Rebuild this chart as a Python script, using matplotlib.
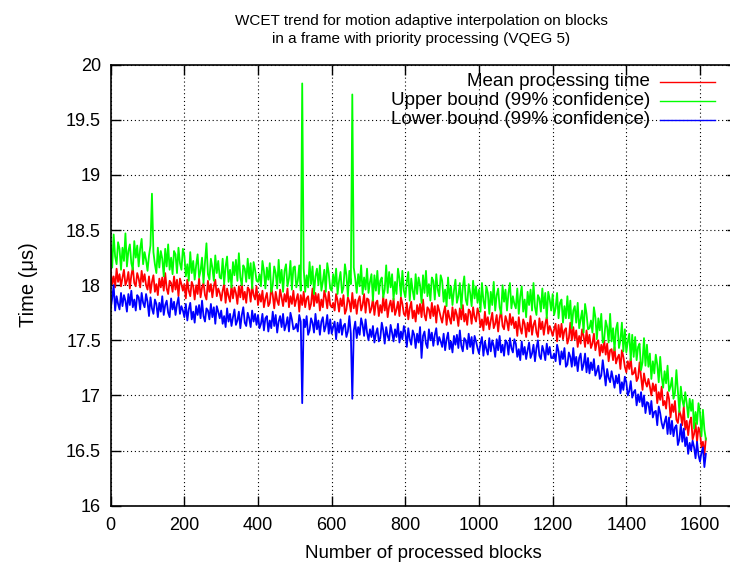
import numpy as np
import matplotlib.pyplot as plt

# processed block index, sampled every 4 blocks
blocks = np.arange(0, 1620, 4)

# times in hundredths of a microsecond, one row per 100 blocks
mean_time = [
    1813, 1801, 1808, 1798, 1815, 1803, 1810, 1799, 1807, 1814, 1800, 1804, 1812, 1797, 1809, 1816, 1802, 1799, 1811, 1806, 1798, 1813, 1803, 1810, 1800,
    1796, 1808, 1793, 1803, 1809, 1794, 1801, 1791, 1806, 1798, 1807, 1795, 1811, 1797, 1792, 1804, 1802, 1794, 1808, 1796, 1805, 1790, 1806, 1801, 1795,
    1801, 1788, 1805, 1795, 1790, 1803, 1799, 1787, 1800, 1792, 1806, 1789, 1798, 1802, 1791, 1787, 1804, 1794, 1801, 1789, 1799, 1805, 1790, 1797, 1793,
    1786, 1795, 1801, 1784, 1797, 1790, 1785, 1800, 1788, 1798, 1793, 1783, 1799, 1789, 1802, 1787, 1794, 1784, 1798, 1796, 1785, 1800, 1791, 1787, 1799,
    1782, 1792, 1785, 1795, 1780, 1788, 1793, 1781, 1784, 1798, 1791, 1779, 1794, 1786, 1782, 1796, 1789, 1781, 1792, 1785, 1797, 1780, 1790, 1783, 1795,
    1781, 1787, 1792, 1776, 1791, 1782, 1794, 1780, 1788, 1790, 1778, 1783, 1797, 1781, 1793, 1784, 1792, 1777, 1787, 1780, 1795, 1789, 1779, 1794, 1782,
    1780, 1784, 1777, 1792, 1786, 1776, 1788, 1781, 1791, 1774, 1778, 1789, 1785, 1776, 1793, 1779, 1787, 1774, 1786, 1790, 1777, 1782, 1792, 1775, 1788,
    1787, 1775, 1779, 1788, 1773, 1784, 1786, 1772, 1782, 1775, 1790, 1777, 1787, 1771, 1781, 1786, 1776, 1788, 1773, 1778, 1785, 1772, 1789, 1783, 1774,
    1772, 1784, 1769, 1779, 1785, 1770, 1777, 1767, 1782, 1774, 1783, 1771, 1787, 1773, 1768, 1780, 1778, 1770, 1784, 1772, 1781, 1766, 1782, 1777, 1771,
    1766, 1775, 1781, 1764, 1777, 1770, 1765, 1780, 1768, 1778, 1773, 1763, 1779, 1769, 1782, 1767, 1774, 1764, 1778, 1776, 1765, 1780, 1771, 1767, 1779,
    1774, 1762, 1769, 1759, 1776, 1764, 1771, 1760, 1768, 1775, 1761, 1765, 1773, 1758, 1770, 1777, 1763, 1760, 1772, 1767, 1759, 1774, 1764, 1771, 1761,
    1767, 1754, 1771, 1761, 1756, 1769, 1765, 1753, 1766, 1758, 1772, 1755, 1764, 1768, 1757, 1753, 1770, 1760, 1767, 1755, 1765, 1771, 1756, 1763, 1759,
    1754, 1760, 1765, 1749, 1764, 1753, 1765, 1751, 1759, 1761, 1747, 1752, 1766, 1750, 1762, 1751, 1759, 1744, 1754, 1747, 1760, 1754, 1744, 1759, 1747,
    1755, 1743, 1747, 1756, 1741, 1748, 1750, 1736, 1746, 1739, 1750, 1737, 1747, 1731, 1741, 1742, 1732, 1744, 1729, 1734, 1737, 1724, 1741, 1735, 1726,
    1721, 1731, 1724, 1734, 1719, 1720, 1725, 1713, 1716, 1730, 1717, 1705, 1720, 1712, 1708, 1715, 1708, 1700, 1711, 1704, 1710, 1693, 1703, 1696, 1708,
    1691, 1695, 1688, 1703, 1697, 1680, 1692, 1685, 1695, 1678, 1675, 1686, 1682, 1673, 1690, 1669, 1677, 1664, 1676, 1680, 1660, 1665, 1675, 1658, 1671,
    1667, 1653, 1658, 1646, 1661,
]

upper_bound = [
    1836, 1816, 1846, 1826, 1819, 1839, 1833, 1814, 1834, 1822, 1847, 1817, 1831, 1837, 1820, 1814, 1840, 1825, 1836, 1817, 1833, 1842, 1819, 1830, 1823,
    1813, 1827, 1836, 1883, 1830, 1819, 1811, 1834, 1816, 1831, 1824, 1808, 1833, 1817, 1837, 1814, 1825, 1810, 1831, 1828, 1811, 1834, 1820, 1814, 1833,
    1827, 1808, 1819, 1804, 1830, 1811, 1822, 1805, 1818, 1828, 1807, 1813, 1825, 1802, 1821, 1838, 1810, 1805, 1824, 1816, 1804, 1827, 1811, 1822, 1807,
    1806, 1824, 1801, 1817, 1826, 1803, 1814, 1798, 1821, 1809, 1823, 1804, 1829, 1807, 1800, 1818, 1815, 1803, 1824, 1806, 1820, 1797, 1821, 1814, 1804,
    1803, 1810, 1799, 1822, 1813, 1797, 1816, 1805, 1820, 1794, 1800, 1817, 1811, 1797, 1823, 1802, 1814, 1794, 1813, 1819, 1799, 1806, 1822, 1796, 1816,
    1817, 1798, 1804, 1818, 1795, 1983, 1815, 1794, 1809, 1798, 1821, 1801, 1817, 1792, 1808, 1815, 1800, 1818, 1795, 1803, 1814, 1794, 1820, 1811, 1797,
    1795, 1810, 1799, 1815, 1792, 1804, 1812, 1793, 1798, 1819, 1809, 1790, 1813, 1801, 1973, 1816, 1806, 1793, 1810, 1799, 1818, 1792, 1807, 1796, 1815,
    1793, 1803, 1810, 1786, 1809, 1795, 1813, 1792, 1804, 1807, 1789, 1796, 1818, 1793, 1812, 1798, 1810, 1787, 1803, 1792, 1815, 1806, 1790, 1813, 1795,
    1789, 1803, 1812, 1786, 1806, 1795, 1787, 1810, 1792, 1807, 1800, 1784, 1809, 1793, 1813, 1790, 1801, 1786, 1807, 1804, 1787, 1810, 1796, 1790, 1809,
    1804, 1785, 1796, 1781, 1807, 1788, 1799, 1782, 1795, 1805, 1784, 1790, 1802, 1779, 1798, 1808, 1787, 1782, 1801, 1793, 1781, 1804, 1788, 1799, 1784,
    1796, 1776, 1802, 1786, 1779, 1799, 1793, 1774, 1794, 1782, 1803, 1777, 1791, 1797, 1780, 1774, 1800, 1785, 1796, 1777, 1793, 1802, 1779, 1790, 1783,
    1779, 1797, 1774, 1790, 1799, 1776, 1787, 1771, 1794, 1782, 1796, 1777, 1802, 1780, 1773, 1791, 1788, 1776, 1797, 1779, 1793, 1770, 1794, 1787, 1777,
    1792, 1773, 1779, 1793, 1770, 1784, 1787, 1766, 1781, 1770, 1790, 1770, 1786, 1761, 1777, 1781, 1766, 1784, 1761, 1769, 1777, 1757, 1783, 1774, 1760,
    1761, 1768, 1757, 1780, 1771, 1751, 1770, 1759, 1774, 1748, 1751, 1768, 1762, 1748, 1774, 1749, 1761, 1741, 1760, 1766, 1743, 1750, 1766, 1740, 1760,
    1739, 1749, 1756, 1732, 1755, 1735, 1753, 1732, 1744, 1747, 1723, 1730, 1752, 1727, 1746, 1726, 1738, 1715, 1731, 1720, 1737, 1728, 1712, 1735, 1717,
    1707, 1722, 1711, 1727, 1704, 1708, 1716, 1697, 1702, 1723, 1704, 1685, 1708, 1696, 1690, 1703, 1693, 1680, 1697, 1686, 1696, 1670, 1685, 1674, 1693,
    1685, 1663, 1687, 1669, 1660,
]

lower_bound = [
    1779, 1788, 1800, 1777, 1790, 1783, 1778, 1793, 1781, 1791, 1786, 1776, 1792, 1782, 1795, 1780, 1787, 1777, 1791, 1789, 1778, 1793, 1784, 1780, 1792,
    1785, 1772, 1789, 1779, 1774, 1787, 1783, 1771, 1784, 1776, 1790, 1773, 1782, 1786, 1775, 1771, 1788, 1778, 1785, 1773, 1783, 1789, 1774, 1781, 1777,
    1771, 1783, 1768, 1778, 1784, 1769, 1776, 1766, 1781, 1773, 1782, 1770, 1786, 1772, 1767, 1779, 1777, 1769, 1783, 1771, 1780, 1765, 1781, 1776, 1770,
    1777, 1765, 1772, 1762, 1779, 1767, 1774, 1763, 1771, 1778, 1764, 1768, 1776, 1761, 1773, 1780, 1766, 1763, 1775, 1770, 1762, 1777, 1767, 1774, 1764,
    1773, 1761, 1765, 1774, 1759, 1770, 1772, 1758, 1768, 1761, 1776, 1763, 1773, 1757, 1767, 1772, 1762, 1774, 1759, 1764, 1771, 1758, 1775, 1769, 1760,
    1761, 1765, 1758, 1773, 1767, 1693, 1769, 1762, 1772, 1755, 1759, 1770, 1766, 1757, 1774, 1760, 1768, 1755, 1767, 1771, 1758, 1763, 1773, 1756, 1769,
    1756, 1762, 1767, 1751, 1766, 1757, 1769, 1755, 1763, 1765, 1753, 1758, 1772, 1756, 1697, 1759, 1767, 1752, 1762, 1755, 1770, 1764, 1754, 1769, 1757,
    1750, 1760, 1753, 1763, 1748, 1756, 1761, 1749, 1752, 1766, 1759, 1747, 1762, 1754, 1750, 1764, 1757, 1749, 1760, 1753, 1765, 1748, 1758, 1751, 1763,
    1757, 1744, 1761, 1751, 1746, 1759, 1755, 1743, 1756, 1748, 1762, 1734, 1754, 1758, 1747, 1743, 1760, 1750, 1757, 1745, 1755, 1761, 1746, 1753, 1749,
    1744, 1756, 1741, 1751, 1757, 1742, 1749, 1739, 1754, 1746, 1755, 1743, 1759, 1745, 1740, 1752, 1750, 1742, 1756, 1744, 1753, 1738, 1754, 1749, 1743,
    1738, 1747, 1753, 1736, 1749, 1742, 1737, 1752, 1740, 1750, 1745, 1735, 1751, 1741, 1754, 1739, 1746, 1736, 1750, 1748, 1737, 1752, 1743, 1739, 1751,
    1747, 1735, 1742, 1732, 1749, 1737, 1744, 1733, 1741, 1748, 1734, 1738, 1746, 1731, 1743, 1750, 1736, 1733, 1745, 1740, 1732, 1747, 1737, 1744, 1734,
    1734, 1738, 1731, 1746, 1740, 1728, 1740, 1733, 1743, 1726, 1728, 1739, 1735, 1726, 1743, 1727, 1735, 1722, 1734, 1738, 1723, 1728, 1738, 1721, 1734,
    1720, 1730, 1723, 1733, 1718, 1722, 1727, 1715, 1718, 1732, 1721, 1709, 1724, 1716, 1712, 1722, 1715, 1707, 1718, 1711, 1719, 1702, 1712, 1705, 1717,
    1712, 1700, 1704, 1713, 1698, 1703, 1705, 1691, 1701, 1694, 1703, 1690, 1700, 1684, 1694, 1693, 1683, 1695, 1680, 1685, 1686, 1673, 1690, 1684, 1675,
    1670, 1676, 1681, 1665, 1680, 1665, 1677, 1663, 1671, 1673, 1655, 1660, 1674, 1658, 1670, 1654, 1662, 1647, 1657, 1650, 1659, 1653, 1643, 1658, 1646,
    1640, 1648, 1653, 1635, 1647,
]

labels = ['Mean processing time', 'Upper bound (99% confidence)', 'Lower bound (99% confidence)']
colors = ['#ff0000', '#00ff00', '#0000ff']

plt.rcParams['font.family'] = ['Liberation Sans', 'DejaVu Sans']
plt.rcParams['font.size'] = 13.5

fig = plt.figure(figsize=(7.3, 5.68), dpi=100)
ax = fig.add_axes([110.7/730, 62.3/568, 626.1/730, 441/568])

series = [mean_time, upper_bound, lower_bound]
for i in range(3):
    ax.plot(blocks, np.array(series[i]) / 100.0, color=colors[i], lw=1.3)

ax.set_xlim(0, 1700)
ax.set_ylim(16, 20)
ax.set_xticks(np.arange(0, 1700, 200))
ax.set_yticks([16, 16.5, 17, 17.5, 18, 18.5, 19, 19.5, 20])
ax.set_yticklabels(['16', '16.5', '17', '17.5', '18', '18.5', '19', '19.5', '20'])
ax.tick_params(direction='in', length=7, width=1, top=True, right=True, labelsize=13)
ax.tick_params(axis='x', pad=8)
ax.tick_params(axis='y', pad=7)
ax.grid(True, color='black', linestyle=(0, (1, 2.5)), lw=0.8)
for s in ax.spines.values():
    s.set_linewidth(1.2)

# gnuplot style key: text right aligned, sample line on the right
for i in range(3):
    y = 0.961 - i*0.043
    ax.plot([0.877, 0.965], [y, y], color=colors[i], lw=1.0, transform=ax.transAxes)
    ax.text(0.861, y, labels[i], ha='right', va='center', transform=ax.transAxes)

fig.text(421/730, 1 - 30/568,
         'WCET trend for motion adaptive interpolation on blocks\nin a frame with priority processing (VQEG 5)',
         ha='center', va='center', linespacing=1.3, fontsize=11)
ax.set_xlabel('Number of processed blocks', labelpad=8)
fig.text(28/730, 1 - 285/568, 'Time (μs)', rotation=90, ha='center', va='center', fontsize=14.5)

plt.savefig('out.png')
